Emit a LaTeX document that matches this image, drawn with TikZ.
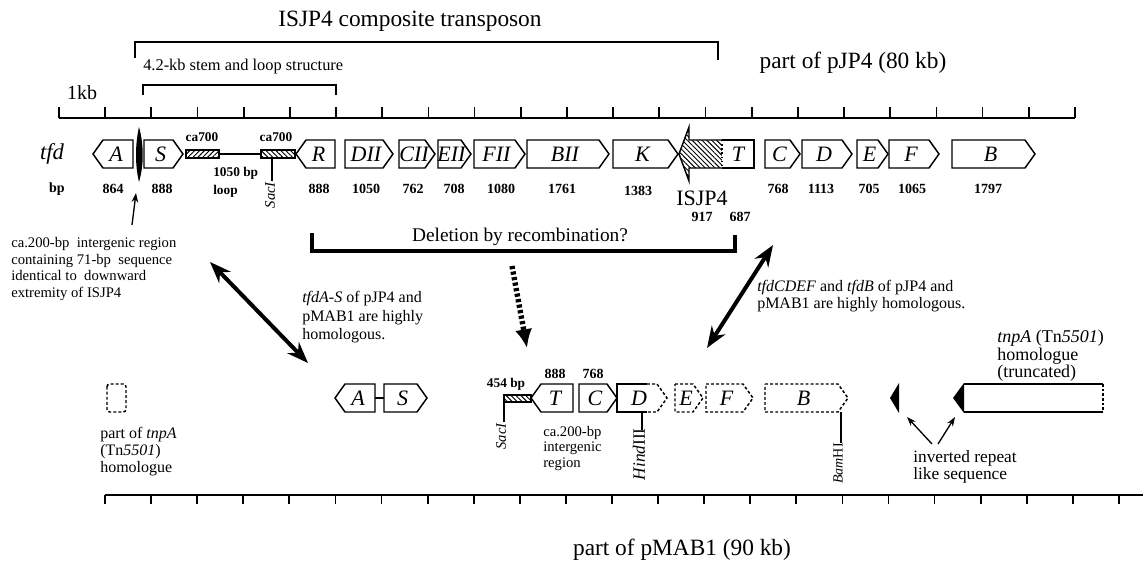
\documentclass[tikz,border=0pt]{standalone}
\usepackage{fontspec}
\setmainfont{Liberation Serif}
\usetikzlibrary{patterns,patterns.meta,arrows.meta}
\newcommand{\fs}[2]{\fontsize{#1}{#2}\selectfont}
% right-pointing gene: [style]{name}{x1}{x2}{y}{label}
\newcommand{\geneR}[6][]{%
  \draw[genebox,#1] (#3,#5-14) -- ({#4-10},#5-14) -- (#4,#5) -- ({#4-10},#5+14) -- (#3,#5+14) -- cycle;
  \node[glab] (#2) at ({(#3+#4-6)/2},#5) {#6};}
% left-pointing gene: [style]{name}{x1 (tip)}{x2}{y}{label}
\newcommand{\geneL}[6][]{%
  \draw[genebox,#1] (#4,#5-14) -- ({#3+10},#5-14) -- (#3,#5) -- ({#3+10},#5+14) -- (#4,#5+14) -- cycle;
  \node[glab] (#2) at ({(#3+#4+6)/2},#5) {#6};}
\begin{document}
\begin{tikzpicture}[x=0.75pt,y=-0.75pt,
  genebox/.style={draw, line width=1.1pt, line join=miter, fill=white},
  dgene/.style={dash pattern=on 2.2pt off 1.6pt},
  glab/.style={font=\fs{16.5}{16}\itshape, inner sep=0},
  num/.style={font=\fs{10.5}{12}\bfseries, inner sep=0},
  scl/.style={line width=1.3pt},
  brk/.style={line width=1.2pt},
  big/.style={font=\fs{17.5}{20}, inner sep=0},
  txt/.style={anchor=north west, align=left, inner sep=0},
  dbl/.style={line width=3pt, {Stealth[length=16pt,width=12pt]}-{Stealth[length=16pt,width=12pt]}},
  ptr/.style={line width=1pt, -{Stealth[length=7pt,width=5pt]}},
  site/.style={font=\fs{11}{12}\itshape, inner sep=0, rotate=90, anchor=east},
  thin/.style={line width=1.1pt},
  hne/.style={pattern={Lines[angle=45,distance=2.6pt,line width=0.7pt]}},
  hnw/.style={pattern={Lines[angle=-45,distance=2.6pt,line width=0.7pt]}},
]
\useasboundingbox (0,0) rectangle (1146,561);

% ---------- top titles and brackets
\node[big] (title) at (410,21) {ISJP4 composite transposon};
\draw[brk] (135,58) -- (135,42) -- (718,42) -- (718,60);
\node[big] (pjp4) at (853,63) {part of pJP4 (80 kb)};
\node[anchor=west, font=\fs{12.3}{14}, inner sep=0] (stem) at (143,67) {4.2-kb stem and loop structure};
\draw[brk] (143,95) -- (143,85) -- (336,85) -- (336,95);
\node[font=\fs{15}{16}, inner sep=0] (kb) at (82,93) {1kb};

% ---------- top scale
\draw[scl] (59,118) -- (1075,118);
\foreach \k in {0,...,22} \draw[scl] ({59+\k*46.18},107) -- ({59+\k*46.18},118);

% ---------- top gene row
\node[font=\fs{17}{18}\itshape, inner sep=0] (tfd) at (52,154) {tfd};
\geneL{gA}{93}{133}{154}{A}
\geneR{gS}{144}{183}{154}{S}
\fill (139,127) .. controls (144,145) and (144,165) .. (139,182) .. controls (135,165) and (135,145) .. (139,127);
\draw[thin, hne] (186,150) rectangle (219,158);
\draw[thin] (219,154) -- (261,154);
\draw[thin, hnw] (261,150) rectangle (295,158);
\draw[thin] (272,158) -- (272,181);
\node[site] (sac1) at (270,182) {SacI};
\node[num, font=\fs{10}{12}\bfseries] (ca1) at (202,137) {ca700};
\node[num, font=\fs{10}{12}\bfseries] (ca2) at (276,137) {ca700};
\node[txt, font=\fs{10}{13.5}\bfseries] (loop) at (213,167) {1050 bp\\loop};
\geneL{gR}{296}{335}{154}{R}
\geneR{gDII}{345}{393}{154}{DII}
\geneR{gCII}{399}{435}{154}{CII}
\geneR{gEII}{438}{471}{154}{EII}
\geneR{gFII}{474}{525}{154}{FII}
\geneR{gBII}{527}{609}{154}{BII}
\geneR{gK}{613}{678}{154}{K}
% ISJP4
\draw[thin, line join=miter, hnw] (722,140) -- (689,140) -- (689,127) -- (679,154) -- (689,181) -- (689,168) -- (722,168);
\draw[genebox] (722,140) -- (754,140) -- (754,168) -- (722,168);
\node[glab] (gT) at (738,154) {T};
\draw[line width=1.1pt, dotted] (722,140) -- (722,168);
\geneR{gC}{765}{800}{154}{C}
\geneR{gD}{802}{852}{154}{D}
\geneR{gE}{857}{888}{154}{E}
\geneR{gF}{889}{939}{154}{F}
\geneR{gB}{952}{1035}{154}{B}
\node[font=\fs{16.5}{18}, inner sep=0] (isjp4) at (702,198) {ISJP4};

% sizes
\node[num] (bp) at (57,189) {bp};
\node[num] (n1) at (113,189) {864};
\node[num] (n2) at (162,189) {888};
\node[num] (n3) at (319,189) {888};
\node[num] (n4) at (366,189) {1050};
\node[num] (n5) at (413,189) {762};
\node[num] (n6) at (454,189) {708};
\node[num] (n7) at (501,189) {1080};
\node[num] (n8) at (562,189) {1761};
\node[num] (n9) at (638,191) {1383};
\node[num] (n10) at (778,189) {768};
\node[num] (n11) at (821,189) {1113};
\node[num] (n12) at (869,189) {705};
\node[num] (n13) at (912,189) {1065};
\node[num] (n14) at (988,189) {1797};
\node[num] (n15) at (702,217) {917};
\node[num] (n16) at (740,217) {687};

% ---------- middle annotations
\node[txt, font=\fs{11}{12.5}] (ig) at (11,237) {ca.200-bp\ \ intergenic region\\containing 71-bp\ \ sequence\\identical to\ \ downward\\extremity of ISJP4};
\coordinate (a1) at (132,225);
\coordinate (a2) at (136,193);
\draw[ptr] (a1) -- (a2);

\draw[line width=3.5pt, line join=miter] (312,233) -- (312,251) -- (735,251) -- (735,235);
\node[font=\fs{14.5}{16}, inner sep=0] (del) at (520,237) {Deletion by recombination?};

\coordinate (l1) at (210,262);
\coordinate (l2) at (308,363);
\draw[dbl] (l1) -- (l2);
\node[txt, font=\fs{12}{13.9}] (hom1) at (302,291) {\textit{tfdA-S} of pJP4 and\\pMAB1 are highly\\homologous.};

\coordinate (d1) at (512,266);
\coordinate (d2) at (527,348);
\draw[line width=4pt, dash pattern=on 2.4pt off 1.8pt, -{Latex[length=14pt,width=13pt]}] (d1) -- (d2);

\coordinate (r1) at (773,245);
\coordinate (r2) at (707,348);
\draw[dbl] (r1) -- (r2);
\node[txt, font=\fs{12}{12.5}] (hom2) at (757,280) {\textit{tfdCDEF} and \textit{tfdB} of pJP4 and\\pMAB1 are highly homologous.};

\node[txt, font=\fs{13.5}{13.2}] (tnp) at (997,330) {\textit{tnpA} (Tn\textit{5501})\\homologue\\(truncated)};

% ---------- bottom gene row
\draw[genebox, dgene, rounded corners=2pt] (107,384) rectangle (126,412);
\node[txt, font=\fs{12}{12.75}] (ptnp) at (100,427) {part of \textit{tnpA}\\(Tn\textit{5501})\\homologue};

\draw[thin] (375,398) -- (384,398);
\geneL{bA}{335}{375}{398}{A}
\geneR{bS}{384}{427}{398}{S}

\draw[thin, hnw] (504,395) rectangle (531,402);
\draw[thin] (504,402) -- (504,422);
\node[site] (sac2) at (501,423) {SacI};
\node[num, font=\fs{10}{12}\bfseries] (b454) at (506,384) {454 bp};
\geneL{bT}{531}{573}{398}{T}
\node[num] (b888) at (555,374) {888};
\node[num] (b768) at (593,374) {768};
\geneR{bC}{579}{617}{398}{C}
\node[txt, font=\fs{11}{11.6}] (ig2) at (543,426) {ca.200-bp\\intergenic\\region};
% D partly dashed
\draw[genebox, dgene] (647,384) -- (657,384) -- (667,398) -- (657,412) -- (647,412);
\draw[genebox, fill=none] (647,384) -- (617,384) -- (617,412) -- (647,412);
\node[glab] (bD) at (639,398) {D};
\geneR[dgene]{bE}{675}{703}{398}{E}
\geneR[dgene]{bF}{706}{753}{398}{F}
\geneR[dgene]{bB}{765}{848}{398}{B}
\draw[thin] (642,412) -- (642,430);
\node[site, font=\fs{13}{14}\upshape] (hind) at (639,428) {\textit{Hind}III};
\draw[thin] (841,412) -- (841,443);
\node[site, font=\fs{10.5}{12}\upshape] (bam) at (838,443) {\textit{Bam}HI};

% inverted repeats and truncated tnpA
\fill (890,398) -- (899,383) -- (899,413) -- cycle;
\draw[thin] (1103,384) -- (964,384);
\draw[thin] (964,412) -- (1103,412);
\draw[thin, dash pattern=on 2pt off 1.5pt] (1103,384) -- (1103,412);
\fill (953,398) -- (964,383) -- (964,413) -- cycle;
\node[txt, font=\fs{13}{12.75}] (inv) at (913,450) {inverted repeat\\like sequence};
\coordinate (i1) at (932,444);
\coordinate (i2) at (907,417);
\coordinate (i3) at (938,444);
\coordinate (i4) at (955,417);
\draw[ptr] (i1) -- (i2);
\draw[ptr] (i3) -- (i4);

% ---------- bottom scale
\draw[scl] (105,495) -- (1143,495);
\foreach \k in {0,...,22} \draw[scl] ({105+\k*46.09},495) -- ({105+\k*46.09},504);
\node[big] (pmab) at (682,550) {part of pMAB1 (90 kb)};
\end{tikzpicture}
\end{document}
